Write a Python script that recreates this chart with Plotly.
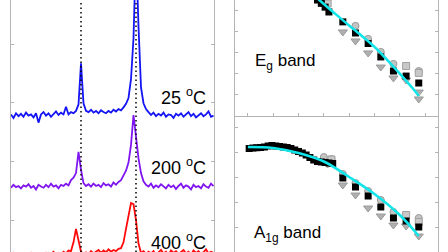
import plotly.graph_objects as go

# ---------------- Left panel: Raman spectra ----------------
wavenumber = list(range(39, 202, 2))  # 82 sample positions (cm-1)

spec_25 = [1.80, 1.74, 1.82, 1.77, 1.81, 1.76, 1.83, 1.78, 1.80, 1.75,
           1.82, 1.66, 1.80, 1.84, 1.78, 1.82, 1.76, 1.81, 1.85, 1.79,
           1.83, 1.80, 1.93, 1.80, 1.84, 1.82, 1.86, 1.97, 2.67, 1.99,
           1.86, 1.84, 1.88, 1.83, 1.86, 1.82, 1.87, 1.84, 1.82, 1.86,
           1.83, 1.88, 1.85, 1.89, 1.87, 1.92, 1.98, 2.08, 2.40, 3.10,
           4.60, 3.30, 2.26, 1.99, 1.89, 1.84, 1.79, 1.83, 1.77, 1.81,
           1.78, 1.83, 1.76, 1.80, 1.79, 1.74, 1.81, 1.78, 1.82, 1.76,
           1.80, 1.84, 1.77, 1.81, 1.75, 1.79, 1.82, 1.77, 1.80, 1.85,
           1.76, 1.78]

spec_200 = [0.55, 0.60, 0.56, 0.58, 0.54, 0.59, 0.57, 0.61, 0.55, 0.58,
            0.52, 0.60, 0.57, 0.55, 0.60, 0.56, 0.62, 0.57, 0.59, 0.54,
            0.60, 0.58, 0.62, 0.59, 0.68, 0.72, 0.80, 1.16, 0.86, 0.63,
            0.58, 0.61, 0.57, 0.62, 0.58, 0.60, 0.56, 0.63, 0.59, 0.61,
            0.57, 0.64, 0.60, 0.65, 0.68, 0.75, 0.84, 0.98, 1.28, 1.79,
            1.40, 1.05, 0.80, 0.66, 0.60, 0.57, 0.62, 0.55, 0.59, 0.56,
            0.61, 0.57, 0.54, 0.60, 0.56, 0.59, 0.53, 0.58, 0.62, 0.55,
            0.59, 0.57, 0.52, 0.60, 0.56, 0.58, 0.54, 0.61, 0.57, 0.55,
            0.62, 0.58]

spec_400 = [-0.60, -0.56, -0.62, -0.58, -0.61, -0.57, -0.63, -0.59, -0.56, -0.61,
            -0.58, -0.62, -0.57, -0.60, -0.56, -0.61, -0.58, -0.54, -0.59, -0.56,
            -0.60, -0.54, -0.57, -0.52, -0.53, -0.38, -0.15, -0.37, -0.54, -0.58,
            -0.55, -0.59, -0.53, -0.57, -0.54, -0.51, -0.56, -0.52, -0.55, -0.50,
            -0.54, -0.51, -0.53, -0.49, -0.48, -0.38, -0.15, 0.05, 0.29, 0.27,
            0.00, -0.40, -0.56, -0.53, -0.58, -0.54, -0.57, -0.53, -0.59, -0.55,
            -0.51, -0.57, -0.54, -0.59, -0.52, -0.56, -0.53, -0.58, -0.54, -0.51,
            -0.57, -0.54, -0.59, -0.52, -0.56, -0.53, -0.58, -0.55, -0.50, -0.57,
            -0.54, -0.56]

spec_labels = ["25 <sup>o</sup>C", "200 <sup>o</sup>C", "400 <sup>o</sup>C"]
spec_colors = ["#1414f5", "#7f16f0", "#ff0a0a"]
ref_peaks = [95, 139]

# ---------------- Right panels: peak positions vs T ----------------
# Eg band (top)
eg_black_x = [185, 200, 215, 230, 245, 260, 275, 290, 305, 320, 375, 425, 475, 525, 575, 625, 675]
eg_black_y = [134.50, 134.36, 134.20, 134.04, 133.86, 133.69, 133.52, 133.36, 133.18, 132.95,
              132.48, 131.95, 131.45, 130.81, 130.14, 129.90, 129.57]
eg_tri_x = [290, 305, 375, 425, 475, 525, 575, 625, 675, 675]
eg_tri_y = [133.45, 133.29, 132.00, 131.57, 131.00, 130.33, 129.81, 129.71, 129.14, 128.81]
eg_circ_x = [300, 425, 475, 525, 575, 675]
eg_circ_y = [133.48, 132.29, 131.67, 131.05, 130.48, 130.14]
eg_sq_x = [315, 625, 675]
eg_sq_y = [133.35, 130.38, 130.05]
eg_fit_x = [220, 250, 300, 350, 400, 450, 500, 550, 600, 650, 675]
eg_fit_y = [134.15, 133.86, 133.33, 132.81, 132.31, 131.81, 131.29, 130.67, 130.02, 129.33, 128.95]

# A1g band (bottom)
a1g_black_x = [5, 20, 35, 50, 65, 80, 95, 110, 125, 140, 155, 170, 185, 200, 215,
               230, 245, 260, 275, 290, 305, 320, 335, 375, 425, 475, 525, 575, 625, 675]
a1g_black_y = [74.14, 74.16, 74.17, 74.18, 74.20, 74.24, 74.26, 74.24, 74.22, 74.20,
               74.18, 74.14, 74.08, 74.02, 73.96, 73.88, 73.78, 73.68, 73.62, 73.60,
               73.58, 73.56, 73.54, 72.96, 72.60, 72.24, 71.80, 71.36, 71.24, 71.00]
a1g_tri_x = [315, 375, 425, 475, 525, 575, 625, 675]
a1g_tri_y = [73.52, 72.68, 72.28, 71.76, 71.44, 71.08, 71.04, 70.64]
a1g_circ_x = [300, 330, 375, 425, 475, 525, 575, 675]
a1g_circ_y = [73.80, 73.72, 73.12, 72.76, 72.44, 72.08, 71.60, 71.36]
a1g_sq_x = [330, 625, 675]
a1g_sq_y = [73.70, 71.48, 71.20]
a1g_fit_x = [0, 100, 200, 300, 400, 500, 600, 675]
a1g_fit_y = [74.20, 74.16, 73.96, 73.62, 73.00, 72.32, 71.48, 70.64]

band_labels = ["E<sub>g</sub> band", "A<sub>1g</sub> band"]

FONT = "Liberation Sans, Arial, sans-serif"
FRAME = "#b4b4b4"
W, H = 448, 252

fig = go.Figure()

for ys, col in zip([spec_25, spec_200, spec_400], spec_colors):
    fig.add_trace(go.Scatter(x=wavenumber, y=ys, mode="lines",
                             line=dict(color=col, width=1.8),
                             xaxis="x", yaxis="y", showlegend=False))

for p in ref_peaks:
    fig.add_shape(type="line", xref="x", yref="paper", x0=p, x1=p, y0=0, y1=1,
                  line=dict(color="black", width=1.5, dash="1.5px,3px"))


def add_points(xa, ya, bx, by, tx, ty, cx, cy, sx, sy, fx, fy):
    common = dict(mode="markers", xaxis=xa, yaxis=ya, showlegend=False)
    fig.add_trace(go.Scatter(x=tx, y=ty, marker=dict(symbol="triangle-down", size=8,
                             color="#b0b0b0", line=dict(color="#9a9a9a", width=1)), **common))
    fig.add_trace(go.Scatter(x=cx, y=cy, marker=dict(symbol="circle", size=7,
                             color="#c4c4c4", line=dict(color="#9a9a9a", width=1)), **common))
    fig.add_trace(go.Scatter(x=sx, y=sy, marker=dict(symbol="square", size=7,
                             color="#c8c8c8", line=dict(color="#a0a0a0", width=1)), **common))
    fig.add_trace(go.Scatter(x=bx, y=by, marker=dict(symbol="square", size=7,
                             color="black", line=dict(width=0)), **common))
    fig.add_trace(go.Scatter(x=fx, y=fy, mode="lines", line=dict(color="#10e6ea", width=2.5,
                             shape="spline"), xaxis=xa, yaxis=ya, showlegend=False))


add_points("x2", "y2", eg_black_x, eg_black_y, eg_tri_x, eg_tri_y, eg_circ_x, eg_circ_y,
           eg_sq_x, eg_sq_y, eg_fit_x, eg_fit_y)
add_points("x3", "y3", a1g_black_x, a1g_black_y, a1g_tri_x, a1g_tri_y, a1g_circ_x, a1g_circ_y,
           a1g_sq_x, a1g_sq_y, a1g_fit_x, a1g_fit_y)

left_dom = [11 / W, 214 / W]
right_dom = [235 / W, 438 / W]
split = 1 - 116 / H

hidden_x = dict(showline=False, showticklabels=False, ticks="", showgrid=False, zeroline=False)
yax = dict(showline=True, linecolor=FRAME, linewidth=1.2, mirror="ticks", ticks="inside",
           ticklen=3, tickcolor=FRAME, showticklabels=False, showgrid=False, zeroline=False)

fig.update_layout(
    width=W, height=H, margin=dict(l=0, r=0, t=0, b=0),
    paper_bgcolor="white", plot_bgcolor="white",
    font=dict(family=FONT, color="black"),
    xaxis=dict(domain=left_dom, range=[39, 201.4], anchor="y", **hidden_x),
    yaxis=dict(domain=[0, 1], range=[-0.545, 3.75], anchor="x", dtick=1, tick0=0, **yax),
    xaxis2=dict(domain=right_dom, range=[-51, 751], anchor="y2", showline=True, linecolor=FRAME,
                linewidth=1.2, ticks="inside", ticklen=3, tickcolor=FRAME, dtick=100, tick0=0,
                showticklabels=False, showgrid=False, zeroline=False),
    yaxis2=dict(domain=[split, 1], range=[128, 133.52], anchor="x2", dtick=1, tick0=128, **yax),
    xaxis3=dict(domain=right_dom, range=[-51, 751], anchor="y3", **hidden_x),
    yaxis3=dict(domain=[0, split], range=[70, 75.44], anchor="x3", dtick=1, tick0=70, **yax),
)

label_y = [1 - 96 / H, 1 - 166 / H, 1 - 241 / H]
for txt, yy in zip(spec_labels, label_y):
    fig.add_annotation(text=txt, xref="paper", yref="paper", x=208 / W, y=yy,
                       xanchor="right", yanchor="middle", showarrow=False,
                       font=dict(size=18, family=FONT, color="black"))

band_pos = [(253 / W, 1 - 62 / H), (252 / W, 1 - 234 / H)]
for txt, (xx, yy) in zip(band_labels, band_pos):
    fig.add_annotation(text=txt, xref="paper", yref="paper", x=xx, y=yy,
                       xanchor="left", yanchor="middle", showarrow=False,
                       font=dict(size=17, family=FONT, color="black"))

fig.write_html("out.html", config={"displayModeBar": False},
               post_script="document.body.style.margin='0px';document.body.style.overflow='hidden';")
